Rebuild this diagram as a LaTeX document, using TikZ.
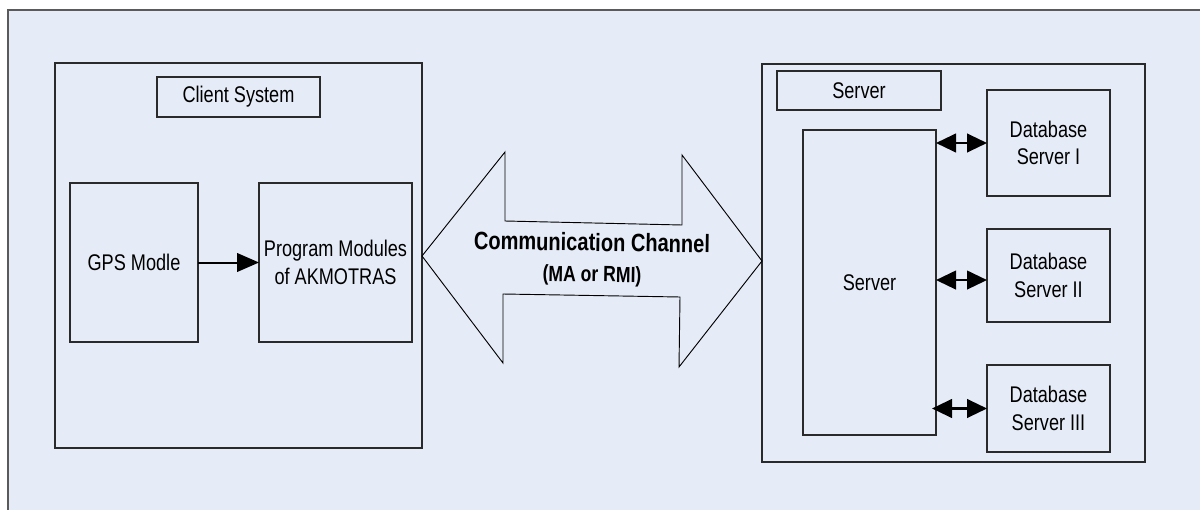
\documentclass[tikz,border=0pt]{standalone}
\usepackage{fontspec}
\setmainfont{Liberation Sans}[FakeStretch=0.8]
\usetikzlibrary{arrows.meta}
\definecolor{bgblue}{HTML}{E6ECF7}
\definecolor{edge}{HTML}{2A2A2A}
\definecolor{frame}{HTML}{5A5A5A}

\begin{document}
\begin{tikzpicture}[x=0.75pt,y=-0.75pt,
  size/.style 2 args={minimum width=#1*0.75pt, minimum height=#2*0.75pt},
  box/.style={draw=edge, line width=0.9pt, inner sep=0pt, outer sep=0pt,
    align=center, font=\fontsize{17}{20.5}\selectfont},
  channel/.style={draw=black, line width=0.7pt, line join=miter},
  onearrow/.style={draw=black, line width=1.5pt,
    -{Triangle[length=16.5pt,width=14pt]}},
  twoarrow/.style={draw=black, line width=1.6pt,
    {Triangle[length=15pt,width=14pt]}-{Triangle[length=15pt,width=14pt]}},
  chtext/.style={font=\bfseries\fontsize{18.8}{22}\selectfont, inner sep=0pt, rotate=-0.9},
  chsub/.style={font=\bfseries\fontsize{16.5}{19}\selectfont, inner sep=0pt, rotate=-0.9}]
\useasboundingbox (0,0) rectangle (1200,510);

% page background
\fill[bgblue] (8,10) rectangle (1215,525);
\draw[frame, line width=0.9pt] (1215,10) -- (8,10) -- (8,525);

% client side
\node[box, size={367}{385}] (client) at (238.5,255.5) {};
\node[box, size={163}{40}] (clientlbl) at (238.5,97) {Client System};
\node[box, size={128}{159}] (gps) at (134,262.5) {GPS Modle};
\node[box, size={153}{159}] (prog) at (335.5,262.5) {Program Modules\\of AKMOTRAS};

% server side
\node[box, size={383}{398}] (server) at (953.5,263) {};
\node[box, size={164}{39}] (serverlbl) at (859,90.5) {Server};
\node[box, size={133}{305}] (srv) at (869.5,282.5) {Server};
\node[box, size={123}{106}] (dbI) at (1048.5,143) {Database\\Server I};
\node[box, size={123}{93}] (dbII) at (1048.5,275.5) {Database\\Server II};
\node[box, size={123}{87}] (dbIII) at (1048.5,408.5) {Database\\Server III};

% communication channel (block double arrow)
\coordinate (chL) at (422,256);
\coordinate (chR) at (762,261);
\draw[channel] (chL) -- (505,152) -- (505,221) -- (682,225) -- (682,155)
  -- (chR) -- (679,367) -- (680,297) -- (503,294) -- (503,363) -- cycle;
\node[chtext] (chname) at (592,242) {Communication Channel};
\node[chsub] (chkind) at (592,276) {(MA or RMI)};

% connectors
\draw[onearrow] (gps.east) -- (prog.west);
\draw[twoarrow] (srv.east |- dbI.west) -- (dbI.west);
\draw[twoarrow] ([yshift=-3.4pt]srv.east |- dbII.west) -- ([yshift=-3.4pt]dbII.west);
\draw[twoarrow] ([xshift=-3pt]srv.east |- dbIII.west) -- (dbIII.west);
\end{tikzpicture}
\end{document}
